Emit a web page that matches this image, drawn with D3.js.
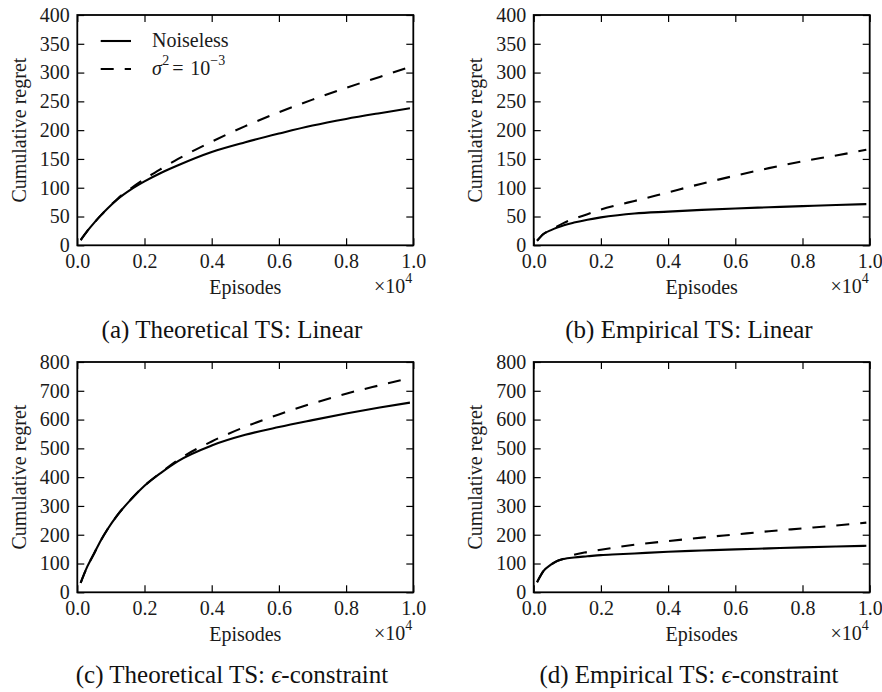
<!DOCTYPE html>
<html>
<head>
<meta charset="utf-8">
<script src="https://cdn.jsdelivr.net/npm/d3@7"></script>
<style>
  html, body { margin: 0; padding: 0; background: #fff; }
  svg { display: block; }
  .tick text { font-family: "Liberation Serif", serif; font-size: 20px; fill: #1a1a1a; }
  .lbl { font-family: "Liberation Serif", serif; font-size: 20px; fill: #1a1a1a; }
  .cap { font-family: "Liberation Serif", serif; font-size: 25px; fill: #111; }
</style>
</head>
<body>
<svg id="fig" width="882" height="692"></svg>
<script>
// Episode grid at which the cumulative regret was recorded
const episodes = [100, 300, 500, 700, 900, 1200, 1600, 2000, 2500, 3000, 4000, 5000, 6000, 7000, 8000, 9000, 9900];

// (a) Theoretical TS, linear scalarisation
const theoLinearNoiseless = [9, 25, 39, 52, 64, 80, 97, 111, 126, 139, 162, 179, 194, 208, 219.5, 229.5, 238];
const theoLinearNoisy     = [9, 25, 39, 52, 64, 81, 99, 115, 133, 150, 180, 207, 231, 253, 273.5, 292.5, 310];

// (b) Empirical TS, linear scalarisation
const empLinearNoiseless = [8, 20, 26, 31, 35, 39.5, 44.5, 48.5, 52.3, 55.2, 58.5, 61.5, 64, 66, 68, 70, 71.5];
const empLinearNoisy     = [8, 20, 26, 33, 39, 46, 54, 62, 70, 77, 92, 107, 121, 134, 146, 156, 166];

// (c) Theoretical TS, epsilon-constraint
const theoConstrNoiseless = [33, 90, 135, 180, 219, 269, 323, 370, 416, 456, 510, 547, 574, 598, 621, 642, 659];
const theoConstrNoisy     = [33, 90, 135, 180, 219, 269, 323, 370, 417, 460, 524, 575, 618, 656, 690, 719, 744];

// (d) Empirical TS, epsilon-constraint
const empConstrNoiseless = [35, 75, 95, 109, 116, 121, 125, 129, 132, 135, 141, 145, 149, 152.5, 156, 159, 161.5];
const empConstrNoisy     = [35, 75, 95, 109, 117, 130, 140, 148, 157, 165, 178, 190, 201, 212, 222, 232, 242];

// Axis ticks
const xTicks = [0, 2000, 4000, 6000, 8000, 10000];
const yTicksLinear = [0, 50, 100, 150, 200, 250, 300, 350, 400];
const yTicksConstr = [0, 100, 200, 300, 400, 500, 600, 700, 800];

// Subfigure captions: [prefix, italic symbol, suffix]
const captions = [
  ["(a) Theoretical TS: Linear", "", ""],
  ["(b) Empirical TS: Linear", "", ""],
  ["(c) Theoretical TS: ", "\u03F5", "-constraint"],
  ["(d) Empirical TS: ", "\u03F5", "-constraint"]
];

const svg = d3.select("#fig");
const W = 336, H = 230.3;

const panels = [
  { left: 77.3,  top: 15,  yMax: 400, yTicks: yTicksLinear, solid: theoLinearNoiseless, dashed: theoLinearNoisy, cap: captions[0], capX: 232, capY: 338, legend: true },
  { left: 533.7, top: 15,  yMax: 400, yTicks: yTicksLinear, solid: empLinearNoiseless,  dashed: empLinearNoisy,  cap: captions[1], capX: 689, capY: 338, legend: false },
  { left: 77.3,  top: 362, yMax: 800, yTicks: yTicksConstr, solid: theoConstrNoiseless, dashed: theoConstrNoisy, cap: captions[2], capX: 232, capY: 683, legend: false },
  { left: 533.7, top: 362, yMax: 800, yTicks: yTicksConstr, solid: empConstrNoiseless,  dashed: empConstrNoisy,  cap: captions[3], capX: 689, capY: 683, legend: false }
];

const DASH = "13,11";
const fmtX = d => (d / 10000).toFixed(1);

panels.forEach(p => {
  const g = svg.append("g").attr("transform", `translate(${p.left},${p.top})`);
  const x = d3.scaleLinear().domain([0, 10000]).range([0, W]);
  const y = d3.scaleLinear().domain([0, p.yMax]).range([H, 0]);

  const line = d3.line()
    .x((d, i) => x(episodes[i]))
    .y(d => y(d))
    .curve(d3.curveMonotoneX);

  // regret curves
  g.append("path").datum(p.solid)
    .attr("d", line).attr("fill", "none").attr("stroke", "#000")
    .attr("stroke-width", 2.1).attr("stroke-linejoin", "round");
  g.append("path").datum(p.dashed)
    .attr("d", line).attr("fill", "none").attr("stroke", "#000")
    .attr("stroke-width", 2.1).attr("stroke-dasharray", DASH);

  // inward ticks on all four sides
  const bottom = g.append("g").attr("transform", `translate(0,${H})`)
    .call(d3.axisBottom(x).tickValues(xTicks).tickSize(-7).tickPadding(8.8).tickFormat(fmtX));
  const top = g.append("g")
    .call(d3.axisTop(x).tickValues(xTicks).tickSize(-7).tickFormat(""));
  const left = g.append("g")
    .call(d3.axisLeft(y).tickValues(p.yTicks).tickSize(-7).tickPadding(7.5));
  const right = g.append("g").attr("transform", `translate(${W},0)`)
    .call(d3.axisRight(y).tickValues(p.yTicks).tickSize(-7).tickFormat(""));

  [bottom, top, left, right].forEach(a => {
    a.select(".domain").remove();
    a.selectAll(".tick line").attr("stroke", "#000").attr("stroke-width", 1.2);
  });

  // frame
  g.append("rect").attr("x", 0).attr("y", 0).attr("width", W).attr("height", H)
    .attr("fill", "none").attr("stroke", "#000").attr("stroke-width", 1.8);

  // axis titles
  g.append("text").attr("class", "lbl")
    .attr("text-anchor", "middle")
    .attr("transform", `translate(-51.5,${H / 2}) rotate(-90)`)
    .text("Cumulative regret");
  g.append("text").attr("class", "lbl")
    .attr("text-anchor", "middle")
    .attr("x", W / 2).attr("y", H + 49)
    .text("Episodes");

  // offset multiplier
  const mult = g.append("text").attr("class", "lbl")
    .attr("text-anchor", "end")
    .attr("x", W - 1).attr("y", H + 48);
  mult.append("tspan").text("\u00D710");
  mult.append("tspan").attr("dy", -10).attr("font-size", 14).text("4");

  // legend
  if (p.legend) {
    const lg = g.append("g");
    lg.append("line").attr("x1", 23.4).attr("x2", 53.7).attr("y1", 26).attr("y2", 26)
      .attr("stroke", "#000").attr("stroke-width", 2.1);
    lg.append("text").attr("class", "lbl").attr("x", 74.7).attr("y", 32).text("Noiseless");
    lg.append("line").attr("x1", 23.4).attr("x2", 53.7).attr("y1", 54).attr("y2", 54)
      .attr("stroke", "#000").attr("stroke-width", 2.1).attr("stroke-dasharray", DASH);
    const t = lg.append("text").attr("class", "lbl").attr("y", 60);
    t.append("tspan").attr("x", 74.7).attr("font-style", "italic").text("\u03C3");
    t.append("tspan").attr("x", 85).attr("dy", -10).attr("font-size", 14).text("2");
    t.append("tspan").attr("x", 95).attr("dy", 10).text("=");
    t.append("tspan").attr("x", 113).text("10");
    t.append("tspan").attr("x", 133).attr("dy", -10).attr("font-size", 14).text("\u22123");
  }

  // caption
  const c = svg.append("text").attr("class", "cap")
    .attr("text-anchor", "middle").attr("x", p.capX).attr("y", p.capY);
  c.append("tspan").text(p.cap[0]);
  if (p.cap[1]) {
    c.append("tspan").attr("font-style", "italic").text(p.cap[1]);
    c.append("tspan").text(p.cap[2]);
  }
});
</script>
</body>
</html>
